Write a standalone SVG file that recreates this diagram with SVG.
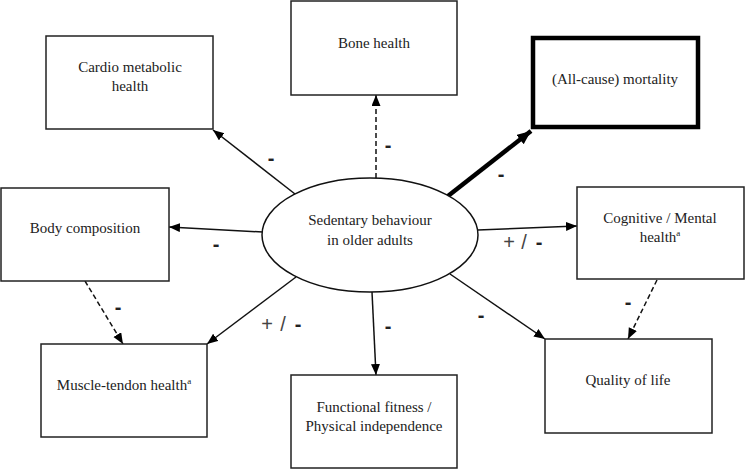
<svg xmlns="http://www.w3.org/2000/svg" width="746" height="470" viewBox="0 0 746 470">
<style>
.box{fill:#fff;stroke:#222;stroke-width:1.5}
.bold{fill:#fff;stroke:#000;stroke-width:4.5}
.t{font-family:Liberation Serif, Times New Roman, Times, serif;font-size:15px;fill:#222;text-anchor:middle}
.ln{stroke:#111;stroke-width:1.5;fill:none}
.dash{stroke-dasharray:5 3}
.thick{stroke:#000;stroke-width:4.5;fill:none}
.m{font-family:Liberation Sans, Arial, sans-serif;font-size:20px;font-weight:bold;fill:#222;text-anchor:middle}
.pm{font-family:Liberation Sans, Arial, sans-serif;font-size:20px;fill:#444;text-anchor:middle}
</style>
<defs>
<marker id="ah" markerUnits="userSpaceOnUse" markerWidth="12" markerHeight="10" refX="11" refY="4.5" orient="auto">
<path d="M0,0 L11,4.5 L0,9 z" fill="#000"/>
</marker>
<marker id="ahb" markerUnits="userSpaceOnUse" markerWidth="16" markerHeight="14" refX="14" refY="6" orient="auto">
<path d="M0,0 L14,6 L0,12 z" fill="#000"/>
</marker>
</defs>
<rect width="746" height="470" fill="#fff"/>
<g id="connectors">
<line class="ln" x1="295" y1="194" x2="213" y2="130" marker-end="url(#ah)"/>
<line class="ln dash" x1="376" y1="178" x2="376" y2="95" marker-end="url(#ah)"/>
<line class="thick" x1="448" y1="196" x2="531" y2="131" marker-end="url(#ahb)"/>
<line class="ln" x1="263" y1="232" x2="169" y2="227" marker-end="url(#ah)"/>
<line class="ln" x1="478" y1="230" x2="577" y2="226" marker-end="url(#ah)"/>
<line class="ln" x1="296" y1="277" x2="207" y2="344" marker-end="url(#ah)"/>
<line class="ln" x1="372" y1="292" x2="376" y2="375" marker-end="url(#ah)"/>
<line class="ln" x1="450" y1="274" x2="545" y2="339" marker-end="url(#ah)"/>
<line class="ln dash" x1="85" y1="281" x2="123" y2="344" marker-end="url(#ah)"/>
<line class="ln dash" x1="657" y1="280" x2="628" y2="339" marker-end="url(#ah)"/>
<text class="m" x="271" y="165">-</text>
<text class="m" x="388" y="152">-</text>
<text class="m" x="501" y="181">-</text>
<text class="m" x="216" y="251">-</text>
<text y="249"><tspan class="pm" x="509">+</tspan><tspan class="pm" x="524">/</tspan><tspan class="m" x="539">-</tspan></text>
<text y="331"><tspan class="pm" x="267">+</tspan><tspan class="pm" x="283">/</tspan><tspan class="m" x="298">-</tspan></text>
<text class="m" x="388" y="333">-</text>
<text class="m" x="481" y="322">-</text>
<text class="m" x="118" y="314">-</text>
<text class="m" x="628" y="309">-</text>
</g>
<g id="cardio">
<rect class="box" x="46" y="36" width="167" height="93"/>
<text class="t" x="130" y="72">Cardio metabolic</text>
<text class="t" x="130" y="91">health</text>
</g>
<g id="bone">
<rect class="box" x="291" y="1" width="166" height="94"/>
<text class="t" x="374" y="48">Bone health</text>
</g>
<g id="mortality">
<rect class="bold" x="533" y="38" width="165" height="89"/>
<text class="t" x="615" y="84">(All-cause) mortality</text>
</g>
<g id="body">
<rect class="box" x="1" y="188" width="168" height="93"/>
<text class="t" x="85" y="233">Body composition</text>
</g>
<g id="sedentary">
<ellipse cx="370" cy="235" rx="108" ry="57" fill="#fff" stroke="#111" stroke-width="1.5"/>
<text class="t" x="370" y="225">Sedentary behaviour</text>
<text class="t" x="370" y="245">in older adults</text>
</g>
<g id="cognitive">
<rect class="box" x="577" y="187" width="167" height="92"/>
<text class="t" x="660" y="223">Cognitive / Mental</text>
<text class="t" x="660" y="242">health<tspan font-size="9" dy="-6">a</tspan></text>
</g>
<g id="muscle">
<rect class="box" x="41" y="344" width="166" height="93"/>
<text class="t" x="124" y="390">Muscle-tendon health<tspan font-size="9" dy="-6">a</tspan></text>
</g>
<g id="functional">
<rect class="box" x="291" y="375" width="166" height="93"/>
<text class="t" x="374" y="412">Functional fitness /</text>
<text class="t" x="374" y="431">Physical independence</text>
</g>
<g id="quality">
<rect class="box" x="545" y="339" width="167" height="94"/>
<text class="t" x="628" y="385">Quality of life</text>
</g>
</svg>
